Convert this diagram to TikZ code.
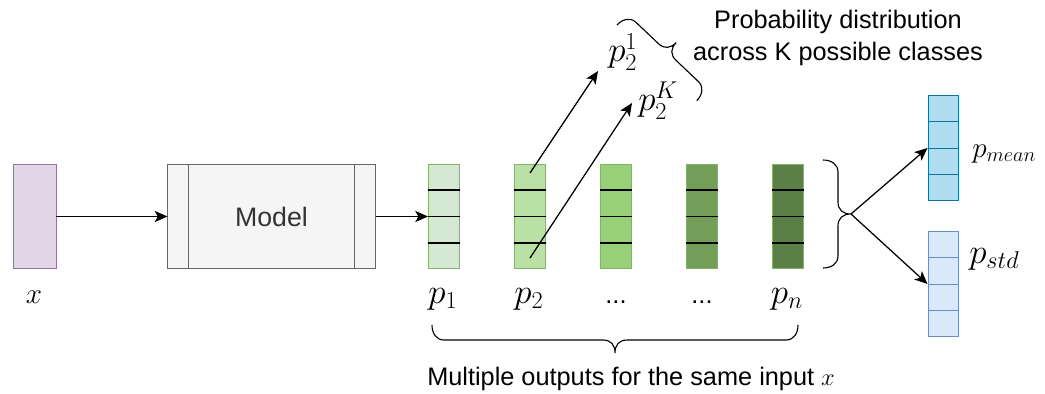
\documentclass[tikz,border=0pt]{standalone}
\usepackage{fontspec}
\setsansfont{Liberation Sans}
\usetikzlibrary{arrows.meta,calc}

\definecolor{xfill}{HTML}{E1D5E7}
\definecolor{xdraw}{HTML}{9673A6}
\definecolor{modelfill}{HTML}{F5F5F5}
\definecolor{modeldraw}{HTML}{666666}
\definecolor{modeltext}{HTML}{333333}
\definecolor{vecdraw}{HTML}{82B366}
\definecolor{g1}{HTML}{D5E8D4}
\definecolor{g2}{HTML}{B9E0A5}
\definecolor{g3}{HTML}{97D077}
\definecolor{g4}{HTML}{739E5A}
\definecolor{g5}{HTML}{5A7F47}
\definecolor{meanfill}{HTML}{B1DDF0}
\definecolor{meandraw}{HTML}{10739E}
\definecolor{stdfill}{HTML}{DAE8FC}
\definecolor{stddraw}{HTML}{6C8EBF}

\tikzset{
  box/.style={draw, line width=0.7pt, inner sep=0pt},
  vec/.style={box, fill=#1, draw=vecdraw, minimum width=0.775cm, minimum height=2.6cm},
  outvec/.style 2 args={box, fill=#1, draw=#2, minimum width=0.75cm, minimum height=2.6cm},
  lbl/.style={inner sep=0pt, font=\fontsize{24}{28}\selectfont},
  txt/.style={inner sep=0pt, font=\sffamily\fontsize{18}{22.7}\selectfont, align=center},
  conn/.style={line width=0.9pt, -{Stealth[length=0.32cm,width=0.28cm,inset=0.08cm]}},
  pics/curly/.style={code={
    \draw[line width=0.8pt] (0,0) .. controls (0,-8) and (4,-15) .. (12,-15)
      -- ({#1/2-12},-15) .. controls ({#1/2-4},-15) and ({#1/2},-20) .. ({#1/2},-28)
      .. controls ({#1/2},-20) and ({#1/2+4},-15) .. ({#1/2+12},-15)
      -- ({#1-12},-15) .. controls ({#1-4},-15) and (#1,-8) .. (#1,0);
    \coordinate (-tip) at ({#1/2},-28);
  }},
}

\begin{document}
\begin{tikzpicture}[x=0.025cm, y=-0.025cm]
\useasboundingbox (0,0) rectangle (1045,394);

% input and model
\node[box, fill=xfill, draw=xdraw, minimum width=1.075cm, minimum height=2.575cm]
  (xin) at (34.5,216.5) {};
\node[lbl, anchor=base, font=\fontsize{21}{25}\selectfont] (xlbl) at (34,303) {$x$};

\node[box, fill=modelfill, draw=modeldraw, minimum width=5.175cm, minimum height=2.575cm,
  text=modeltext, font=\sffamily\fontsize{19}{23}\selectfont] (model) at (271.5,216.5) {Model};
\draw[modeldraw, line width=0.7pt] ($(model.north west)+(21,0)$) -- ($(model.south west)+(21,0)$);
\draw[modeldraw, line width=0.7pt] ($(model.north east)+(-21,0)$) -- ($(model.south east)+(-21,0)$);

% sampled outputs
\foreach \n/\c [count=\i from 0] in {p1/g1,p2/g2,p3/g3,p4/g4,pn/g5}
  \node[vec=\c] (\n) at (444+86*\i,216.5) {};
\foreach \n in {p1,p2,p3,p4,pn}
  \foreach \k in {1,2,3}
    \draw[line width=1.2pt] ($(\n.north west)!\k/4!(\n.south west)$) -- ($(\n.north east)!\k/4!(\n.south east)$);

\node[lbl, anchor=base] (l1) at (443,303) {$p_1$};
\node[lbl, anchor=base] (l2) at (529,303) {$p_2$};
\node[txt, anchor=base] (l3) at (616,303) {...};
\node[txt, anchor=base] (l4) at (702,303) {...};
\node[lbl, anchor=base] (ln) at (787,303) {$p_n$};

\draw[conn] (xin) -- (model);
\draw[conn] (model) -- (p1);

% class probabilities of p2
\coordinate (a1) at (530,173);
\coordinate (a2) at (530,258);
\coordinate (e1) at (598,71);
\coordinate (e2) at (632,103);
\node[lbl, anchor=base west] (p21) at (608,62) {$p_2^1$};
\node[lbl, anchor=base west] (p2K) at (638,111) {$p_2^K$};
\draw[conn] (a1) -- (e1);
\draw[conn] (a2) -- (e2);

\pic[rotate=-43.5] (tb) at (617,25) {curly=110};
\node[txt] (probtxt) at (838,38) {Probability distribution\\across K possible classes};

% mean and std
\node[outvec={meanfill}{meandraw}] (pmean) at (943,148) {};
\node[outvec={stdfill}{stddraw}] (pstd) at (943,284) {};
\foreach \k in {1,2,3} {
  \draw[meandraw, line width=0.7pt] ($(pmean.north west)!\k/4!(pmean.south west)$) -- ($(pmean.north east)!\k/4!(pmean.south east)$);
  \draw[stddraw, line width=0.7pt] ($(pstd.north west)!\k/4!(pstd.south west)$) -- ($(pstd.north east)!\k/4!(pstd.south east)$);
}
\node[lbl, anchor=base west, font=\fontsize{22}{26}\selectfont] (lmean) at (972,157) {$p_{mean}$};
\node[lbl, anchor=base west] (lstd) at (969,263) {$p_{std}$};

\pic[rotate=-90] (rb) at (823,160) {curly=108};
\draw[conn] (rb-tip) -- (pmean.west);
\draw[conn] (rb-tip) -- (pstd.west);

% all samples
\pic[rotate=180] (bb) at (798,325) {curly=366};
\node[txt, anchor=base] (multtxt) at (631,385) {Multiple outputs for the same input $x$};

\end{tikzpicture}
\end{document}
